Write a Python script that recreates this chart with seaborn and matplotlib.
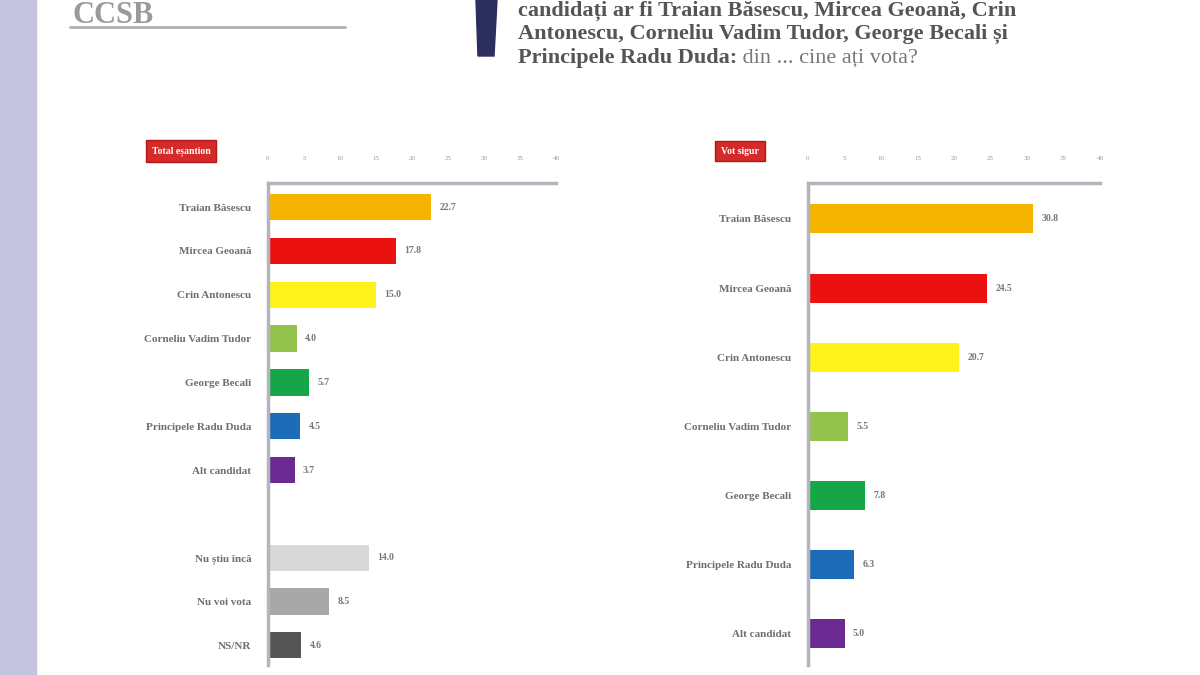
"""Sondaj prezidentiale - intentie de vot, doua esantioane."""

import matplotlib
matplotlib.use("Agg")
import matplotlib.pyplot as plt
import matplotlib.patches as mpatches
import pandas as pd
import seaborn as sns

# --- date ---
left_names = ["Traian Băsescu", "Mircea Geoană", "Crin Antonescu",
              "Corneliu Vadim Tudor", "George Becali", "Principele Radu Duda",
              "Alt candidat", "Nu știu încă", "Nu voi vota", "NS/NR"]
left_values = [22.7, 17.8, 15.0, 4.0, 5.7, 4.5, 3.7, 14.0, 8.5, 4.6]

right_names = ["Traian Băsescu", "Mircea Geoană", "Crin Antonescu",
               "Corneliu Vadim Tudor", "George Becali", "Principele Radu Duda",
               "Alt candidat"]
right_values = [30.8, 24.5, 20.7, 5.5, 7.8, 6.3, 5.0]

colors = {
    "Traian Băsescu": "#f5b400",
    "Mircea Geoană": "#ec1111",
    "Crin Antonescu": "#fff21a",
    "Corneliu Vadim Tudor": "#95c24d",
    "George Becali": "#16a64a",
    "Principele Radu Duda": "#1d6cb8",
    "Alt candidat": "#6a2a92",
    "Nu știu încă": "#d8d8d8",
    "Nu voi vota": "#a8a8a8",
    "NS/NR": "#555555",
}
ticks = [0, 5, 10, 15, 20, 25, 30, 35, 40]
badge_left = "Total eșantion"
badge_right = "Vot sigur"
title_lines = ["candidați ar fi Traian Băsescu, Mircea Geoană, Crin",
               "Antonescu, Corneliu Vadim Tudor, George Becali și"]
title_bold_end = "Principele Radu Duda"
title_tail = " din ... cine ați vota?"

W, H = 1200, 675
sns.set_style("white")
plt.rcParams["font.family"] = ["Liberation Serif", "DejaVu Serif"]
fig = plt.figure(figsize=(12, 6.75), dpi=100)


def px_axes(x0, x1, y0, y1):
    return fig.add_axes([x0 / W, 1 - y1 / H, (x1 - x0) / W, (y1 - y0) / H])


def draw_panel(ax, names, values, order, bar_w, ylim):
    df = pd.DataFrame({"name": names, "value": values})
    sns.barplot(data=df, x="value", y="name", order=order, hue="name",
                palette=colors, legend=False, width=bar_w, ax=ax,
                saturation=1, edgecolor="none")
    ax.set_xlim(0, 40)
    ax.set_ylim(*ylim)
    ax.set_xticks(ticks)
    ax.xaxis.tick_top()
    ax.tick_params(axis="x", length=0, pad=16, labelsize=5, labelcolor="#9a9a9a")
    ax.tick_params(axis="y", length=0, pad=12, labelsize=8, labelcolor="#6f6f6f")
    for lbl in ax.get_yticklabels():
        lbl.set_fontweight("bold")
    ax.set_xlabel("")
    ax.set_ylabel("")
    for s in ["right", "bottom"]:
        ax.spines[s].set_visible(False)
    for s in ["top", "left"]:
        ax.spines[s].set_color("#b4b4bc")
        ax.spines[s].set_linewidth(2.5)
    for container in ax.containers:
        ax.bar_label(container, fmt="%.1f", padding=6, fontsize=7,
                     color="#777777", fontweight="bold")


# panou stanga
left_order = left_names[:7] + [" "] + left_names[7:]
ax1 = px_axes(268, 556, 183, 665)
draw_panel(ax1, left_names, left_values, left_order, 0.6, (10.45, -0.55))

# panou dreapta
ax2 = px_axes(808, 1100, 183, 665)
draw_panel(ax2, right_names, right_values, right_names, 0.42, (6.45, -0.52))

# decor: banda laterala, bara titlu, logo
fig.patches.append(mpatches.Rectangle((0, 0), 36 / W, 1, transform=fig.transFigure,
                                      color="#c4c4de", zorder=0))
fig.patches.append(mpatches.Polygon([(476 / W, 1), (497 / W, 1), (494 / W, 1 - 56 / H),
                                     (478 / W, 1 - 56 / H)],
                                    transform=fig.transFigure, color="#2c2e5e"))
fig.text(72 / W, 1 - 23 / H, "CCSB", fontsize=22, color="#9a9a9a",
         fontweight="bold", va="baseline")
fig.lines.append(plt.Line2D([70 / W, 345 / W], [1 - 27 / H, 1 - 27 / H],
                            transform=fig.transFigure, color="#b0b0b0", lw=2))

# titlu
title_kw = dict(fontsize=16, color="#555555", fontweight="bold", va="center")
fig.text(518 / W, 1 - 11 / H, title_lines[0], **title_kw)
fig.text(518 / W, 1 - 34 / H, title_lines[1], **title_kw)
t = fig.text(518 / W, 1 - 58 / H, title_bold_end + ":", **title_kw)
renderer = fig.canvas.get_renderer()
bb = t.get_window_extent(renderer)
fig.text(bb.x1 / W, 1 - 58 / H, title_tail, fontsize=16, color="#777777", va="center")

# etichete rosii
badge_kw = dict(fontsize=7, color="white", fontweight="bold", ha="center", va="center",
                bbox=dict(boxstyle="square,pad=0.6", fc="#d42a2a", ec="#b01818"))
fig.text(181 / W, 1 - 151 / H, badge_left, **badge_kw)
fig.text(740 / W, 1 - 151 / H, badge_right, **badge_kw)

plt.savefig("out.png", dpi=100)
plt.close()
